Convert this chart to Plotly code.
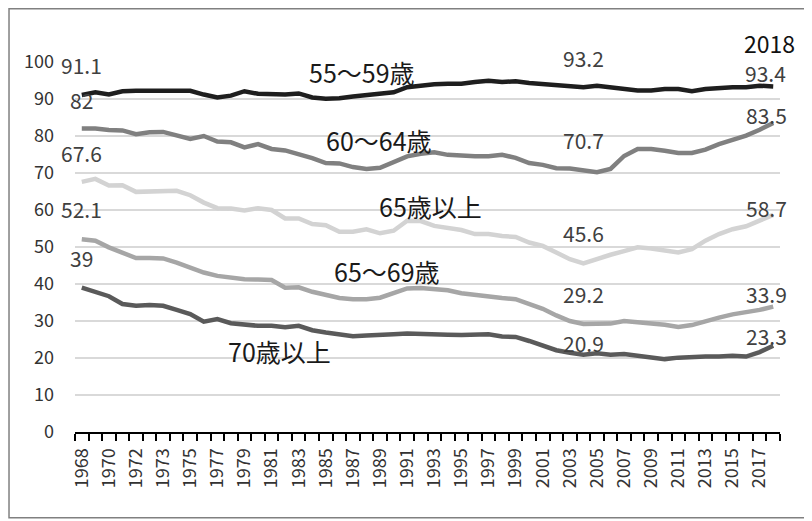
import plotly.graph_objects as go

year_labels = ["1968", "1969", "1970", "1971", "1972", "1972"] + [str(y) for y in range(1973, 2019)]

s55_59 = [91.1, 91.8, 91.2, 92.1, 92.2, 92.2, 92.1, 92.1, 92.2, 91.2,
          90.4, 90.9, 92.1, 91.4, 91.2, 91.2, 91.5, 90.4, 90.1, 90.2,
          90.7, 91.0, 91.2, 91.8, 93.2, 93.7, 94.0, 94.1, 94.1, 94.6,
          94.9, 94.6, 94.8, 94.3, 94.0, 93.9, 93.4, 93.2, 93.6, 93.1,
          92.9, 92.3, 92.3, 92.7, 92.7, 92.1, 92.7, 93.1, 93.2, 93.2,
          93.6, 93.4]
s60_64 = [82.0, 82.0, 81.6, 81.5, 80.5, 81.0, 81.1, 80.3, 79.2, 80.0,
          78.5, 78.3, 76.9, 77.8, 76.5, 76.1, 75.1, 74.0, 72.7, 72.6,
          71.6, 71.1, 71.4, 72.9, 74.5, 75.2, 75.6, 74.9, 74.6, 74.5,
          74.5, 74.9, 74.1, 72.7, 72.2, 71.3, 71.2, 70.7, 70.2, 71.1,
          74.6, 76.5, 76.5, 76.0, 75.4, 75.4, 76.3, 77.8, 79.0, 80.1,
          81.7, 83.5]
s65_over = [67.6, 68.4, 66.6, 66.7, 64.9, 64.9, 65.0, 65.2, 64.0, 62.0,
            60.5, 60.4, 59.9, 60.5, 60.0, 57.7, 57.7, 56.2, 55.9, 54.1,
            54.1, 54.8, 53.7, 54.4, 57.1, 57.0, 55.7, 55.1, 54.6, 53.5,
            53.5, 53.0, 52.7, 51.2, 50.3, 48.5, 46.7, 45.6, 46.9, 47.9,
            48.9, 49.9, 49.6, 49.1, 48.5, 49.4, 51.7, 53.5, 54.8, 55.6,
            57.1, 58.7]
s65_69 = [52.1, 51.7, 49.9, 48.3, 47.0, 47.0, 46.9, 45.8, 44.4, 43.1,
          42.2, 41.7, 41.3, 41.2, 41.1, 39.0, 39.1, 37.9, 36.9, 36.2,
          35.9, 35.9, 36.3, 37.5, 38.8, 38.9, 38.5, 38.3, 37.5, 37.0,
          36.8, 36.2, 35.9, 34.5, 33.3, 31.5, 30.0, 29.2, 29.3, 29.3,
          30.0, 29.8, 29.3, 29.0, 28.4, 28.9, 30.0, 30.9, 31.8, 32.3,
          33.0, 33.9]
s70_over = [39.0, 37.9, 36.7, 34.6, 34.1, 34.3, 34.1, 33.0, 31.9, 29.8,
            30.5, 29.4, 29.0, 28.7, 28.7, 28.3, 28.7, 27.5, 26.9, 26.4,
            25.9, 26.1, 26.1, 26.4, 26.6, 26.6, 26.4, 26.3, 26.2, 26.2,
            26.4, 25.8, 25.7, 24.6, 23.3, 22.1, 21.4, 20.9, 21.3, 20.9,
            21.1, 20.6, 20.0, 19.7, 20.1, 20.4, 20.4, 20.4, 20.6, 20.4,
            21.6, 23.3]

series_names = ["55～59歳", "60～64歳", "65歳以上", "65～69歳", "70歳以上"]
series_values = [s55_59, s60_64, s65_over, s65_69, s70_over]
series_colors = ["#1e1e1e", "#808080", "#d3d3d3", "#a6a6a6", "#5a5a5a"]

x_idx = list(range(len(year_labels)))
label_points = [0, 37, len(year_labels) - 1]

FONT = "Noto Sans CJK JP"
fig = go.Figure()

for name, vals, col in zip(series_names, series_values, series_colors):
    fig.add_trace(go.Scatter(x=x_idx, y=vals, mode="lines", name=name,
                             line=dict(color=col, width=4.5),
                             showlegend=False, hoverinfo="skip"))

# data label offsets (xshift, yshift) per series at start / middle / end
shifts = {
    0: [(0, 30), (0, 29), (-8, 13)],
    1: [(0, 29), (0, 30), (-7, 8)],
    2: [(0, 29), (0, 30), (-7, 7)],
    3: [(0, 30), (0, 30), (-7, 13)],
    4: [(0, 30), (0, 12), (-7, 10)],
}
annotations = []
for s, vals in enumerate(series_values):
    for k, i in enumerate(label_points):
        xs, ys = shifts[s][k]
        annotations.append(dict(x=i, y=vals[i], xref="x", yref="y",
                                text=f"{vals[i]:g}", showarrow=False,
                                xanchor="center", yanchor="middle",
                                xshift=xs, yshift=ys,
                                font=dict(family=FONT, size=21, color="#404040")))

# series name labels (index position, value position)
name_pos = [(20.66, 97.4), (21.95, 79.0), (25.75, 61.0), (22.5, 43.4), (14.6, 22.0)]
for name, (nx, ny) in zip(series_names, name_pos):
    annotations.append(dict(x=nx, y=ny, xref="x", yref="y", text=name,
                            showarrow=False, xanchor="center", yanchor="middle",
                            font=dict(family=FONT, size=25, color="#1a1a1a")))

annotations.append(dict(x=50.75, y=1.052, xref="x", yref="paper", text=year_labels[-1],
                        showarrow=False, xanchor="center", yanchor="middle",
                        font=dict(family=FONT, size=23, color="#111111")))

tick_positions = [i for i in x_idx if i % 2 == 0]
tick_texts = [year_labels[i] for i in tick_positions]

fig.update_layout(
    width=804, height=513,
    margin=dict(l=67, r=32, t=54, b=89),
    paper_bgcolor="white", plot_bgcolor="white",
    annotations=annotations,
    xaxis=dict(range=[-0.5, len(year_labels) - 0.5], tickmode="array",
               tickvals=tick_positions, ticktext=tick_texts, tickangle=-90,
               ticks="outside", ticklen=7, tickcolor="rgba(0,0,0,0)",
               showgrid=False, showline=True, linecolor="#000000", linewidth=2,
               tickfont=dict(family=FONT, size=18, color="#333333"),
               minor=dict(ticks="outside", tick0=-0.5, dtick=1, ticklen=7,
                          tickwidth=2, tickcolor="#000000", showgrid=False),
               zeroline=False),
    yaxis=dict(range=[0, 100], tickmode="linear", tick0=0, dtick=10,
               showgrid=True, gridcolor="#d9d9d9", gridwidth=1.5,
               zeroline=False, showline=False, ticks="",
               ticklabelstandoff=20,
               tickfont=dict(family=FONT, size=18, color="#333333")),
    shapes=[dict(type="rect", xref="paper", yref="paper",
                 x0=-0.0936, x1=1.06, y0=-0.2316, y1=1.144,
                 line=dict(color="#808080", width=1.5), fillcolor="rgba(0,0,0,0)",
                 layer="above")],
)

fig.write_html("out.html")
